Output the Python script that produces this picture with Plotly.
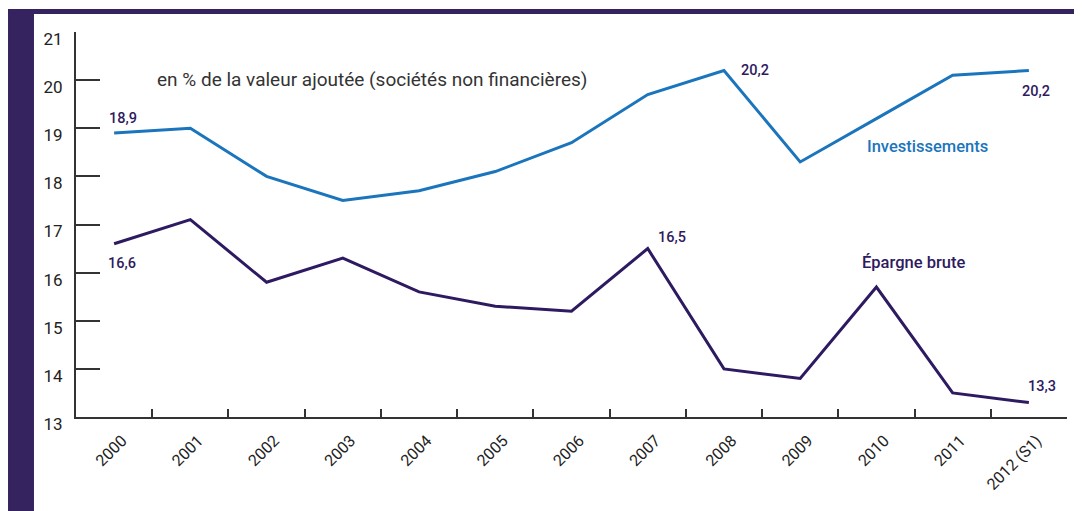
import plotly.graph_objects as go

years = ["2000", "2001", "2002", "2003", "2004", "2005", "2006",
         "2007", "2008", "2009", "2010", "2011", "2012 (S1)"]
investissements = [18.9, 19.0, 18.0, 17.5, 17.7, 18.1, 18.7, 19.7, 20.2, 18.3, 19.2, 20.1, 20.2]
epargne_brute = [16.6, 17.1, 15.8, 16.3, 15.6, 15.3, 15.2, 16.5, 14.0, 13.8, 15.7, 13.5, 13.3]
y_ticks = [13, 14, 15, 16, 17, 18, 19, 20, 21]

BLUE = "#1b75bc"
PURPLE = "#2e1a60"
BAND = "#35235f"
FONT = "Roboto"

fig = go.Figure()
fig.add_trace(go.Scatter(x=years, y=investissements, mode="lines",
                         line=dict(color=BLUE, width=3), hoverinfo="skip"))
fig.add_trace(go.Scatter(x=years, y=epargne_brute, mode="lines",
                         line=dict(color=PURPLE, width=3), hoverinfo="skip"))

def fmt(v):
    return f"{v:.1f}".replace(".", ",")

labels = [
    (0, investissements, 9, 15),
    (8, investissements, 31, 0),
    (12, investissements, 7, -21),
    (0, epargne_brute, 8, -20),
    (7, epargne_brute, 24, 11),
    (12, epargne_brute, 13, 16),
]
for i, series, dx, dy in labels:
    fig.add_annotation(x=i, y=series[i], text=fmt(series[i]), showarrow=False,
                       xshift=dx, yshift=dy,
                       font=dict(family=FONT, size=14.5, color=PURPLE, weight=500))

fig.add_annotation(x=10, y=18.62, xshift=51, text="Investissements", showarrow=False,
                   font=dict(family=FONT, size=16.5, color=BLUE, weight=500))
fig.add_annotation(x=10, y=16.22, xshift=37, text="Épargne brute", showarrow=False,
                   font=dict(family=FONT, size=16.5, color=PURPLE, weight=500))
fig.add_annotation(xref="paper", yref="paper", x=0.0797, y=0.9117, xanchor="left",
                   text="en % de la valeur ajoutée (sociétés non financières)", showarrow=False,
                   font=dict(family=FONT, size=19, color="#333333"))

# decorative bands
fig.add_shape(type="rect", xref="paper", yref="paper", x0=-0.0686, x1=-0.0424,
              y0=-0.26, y1=1.0597, fillcolor=BAND, line_width=0, layer="below")
fig.add_shape(type="rect", xref="paper", yref="paper", x0=-0.0686, x1=1.02,
              y0=1.0468, y1=1.0597, fillcolor=BAND, line_width=0, layer="below")

fig.update_layout(
    width=1074, height=503,
    margin=dict(l=68, r=15, t=24, b=94, autoexpand=False),
    paper_bgcolor="white", plot_bgcolor="white",
    showlegend=False,
    font=dict(family=FONT, size=15, color="#222222"),
)
fig.update_xaxes(type="category", range=[-0.5, 12.5], showgrid=False, zeroline=False,
                 automargin=False,
                 showline=True, linecolor="#333333", linewidth=2,
                 ticks="inside", ticklen=8, tickwidth=2, tickcolor="#333333",
                 tickson="boundaries", tickangle=-45,
                 tickfont=dict(family=FONT, size=16, color="#222222"),
                 ticklabelshift=8, ticklabelstandoff=6)
fig.update_yaxes(range=[13, 21], tickvals=y_ticks, showgrid=False, zeroline=False,
                 automargin=False,
                 showline=True, linecolor="#333333", linewidth=2,
                 ticks="inside", ticklen=24, tickwidth=1.5, tickcolor="#333333",
                 tickfont=dict(family=FONT, size=17, color="#222222"),
                 ticklabelshift=7, ticklabelstandoff=8)

fig.write_html("out.html")
